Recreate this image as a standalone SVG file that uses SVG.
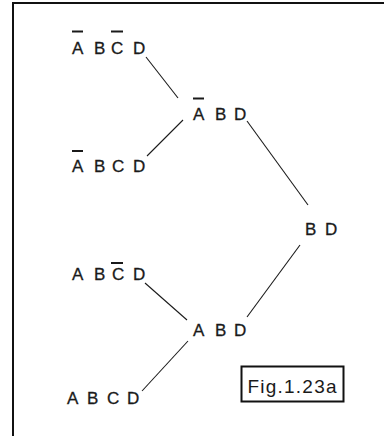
<svg xmlns="http://www.w3.org/2000/svg" width="389" height="436" viewBox="0 0 389 436">
  <style>
    .lbl { font-family: "Liberation Sans", Arial, sans-serif; font-size: 17px; fill: #1a1a1a; stroke: #1a1a1a; stroke-width: 0.3; }
    .cap { font-family: "Liberation Sans", Arial, sans-serif; font-size: 19px; fill: #1a1a1a; }
    .bar { stroke: #1a1a1a; stroke-width: 2; }
    .edge { stroke: #1a1a1a; stroke-width: 1.1; fill: none; }
    .frame { stroke: #111; stroke-width: 2; fill: none; }
  </style>
  <rect width="389" height="436" fill="#ffffff"/>

  <!-- page frame: top and left rules -->
  <g id="frame">
    <line class="frame" x1="12" y1="3" x2="384" y2="3"/>
    <line class="frame" x1="13" y1="2" x2="13" y2="436"/>
  </g>

  <!-- connectors -->
  <g id="edges">
    <line class="edge" x1="146" y1="57" x2="178" y2="98"/>
    <line class="edge" x1="183" y1="120" x2="147" y2="156"/>
    <line class="edge" x1="247" y1="121" x2="308" y2="205"/>
    <line class="edge" x1="300" y1="245" x2="247" y2="317"/>
    <line class="edge" x1="145" y1="283" x2="187" y2="320"/>
    <line class="edge" x1="188" y1="341" x2="142" y2="391"/>
  </g>

  <!-- A' B C' D -->
  <g id="n1">
    <text class="lbl" y="54"><tspan x="72">A</tspan><tspan x="94">B</tspan><tspan x="111">C</tspan><tspan x="133">D</tspan></text>
    <line class="bar" x1="72" y1="31.5" x2="83" y2="31.5"/>
    <line class="bar" x1="111" y1="31.5" x2="123" y2="31.5"/>
  </g>

  <!-- A' B C D -->
  <g id="n2">
    <text class="lbl" y="172"><tspan x="72">A</tspan><tspan x="94">B</tspan><tspan x="112">C</tspan><tspan x="133">D</tspan></text>
    <line class="bar" x1="72" y1="151" x2="83" y2="151"/>
  </g>

  <!-- A' B D -->
  <g id="n3">
    <text class="lbl" y="120"><tspan x="193">A</tspan><tspan x="215">B</tspan><tspan x="234">D</tspan></text>
    <line class="bar" x1="193" y1="98.5" x2="204" y2="98.5"/>
  </g>

  <!-- B D -->
  <g id="n4">
    <text class="lbl" y="235"><tspan x="305">B</tspan><tspan x="325">D</tspan></text>
  </g>

  <!-- A B C' D -->
  <g id="n5">
    <text class="lbl" y="280"><tspan x="72">A</tspan><tspan x="94">B</tspan><tspan x="112">C</tspan><tspan x="133">D</tspan></text>
    <line class="bar" x1="111" y1="263" x2="123" y2="263"/>
  </g>

  <!-- A B D -->
  <g id="n6">
    <text class="lbl" y="336"><tspan x="193">A</tspan><tspan x="215">B</tspan><tspan x="234">D</tspan></text>
  </g>

  <!-- A B C D -->
  <g id="n7">
    <text class="lbl" y="404"><tspan x="67">A</tspan><tspan x="87">B</tspan><tspan x="107">C</tspan><tspan x="127">D</tspan></text>
  </g>

  <!-- figure caption -->
  <g id="caption">
    <rect x="241.5" y="366.5" width="102" height="35" fill="none" stroke="#111" stroke-width="2"/>
    <text class="cap" x="247.5" y="392.5" textLength="89" lengthAdjust="spacing">Fig.1.23a</text>
  </g>
</svg>
